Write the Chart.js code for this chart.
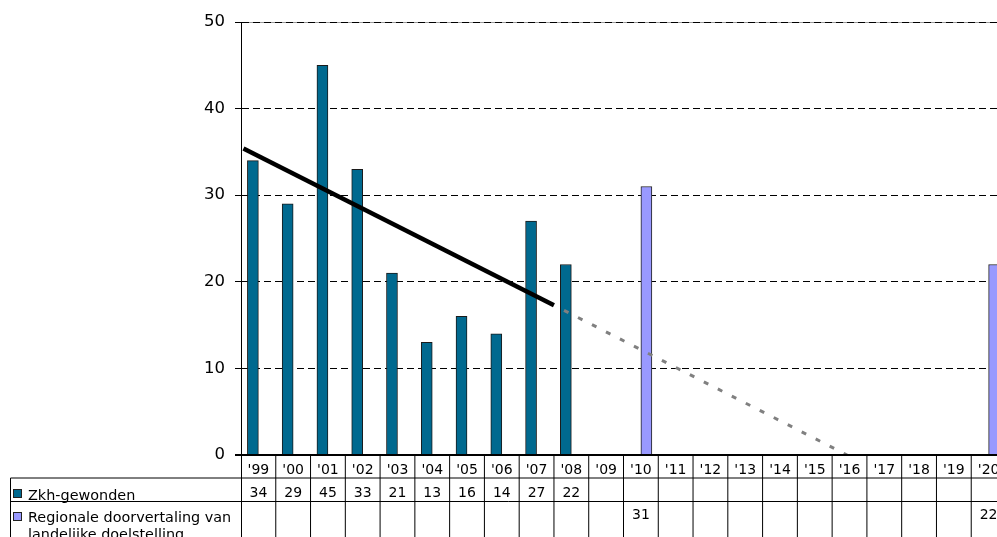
<!DOCTYPE html>
<html>
<head>
<meta charset="utf-8">
<title>Zkh-gewonden</title>
<script src="https://cdn.jsdelivr.net/npm/chart.js@4/dist/chart.umd.min.js"></script>
<style>
  html, body { margin: 0; padding: 0; background: #fff; overflow: hidden; width: 997px; height: 537px; }
  #wrap { position: relative; width: 1012px; height: 537px; }
</style>
</head>
<body>
<div id="wrap"><canvas id="chart" width="1012" height="537"></canvas></div>
<script>
// Years shown on the category axis
const years = ["'99", "'00", "'01", "'02", "'03", "'04", "'05", "'06", "'07", "'08", "'09",
               "'10", "'11", "'12", "'13", "'14", "'15", "'16", "'17", "'18", "'19", "'20"];

// Ziekenhuisgewonden per jaar
const zkhGewonden = [34, 29, 45, 33, 21, 13, 16, 14, 27, 22,
                     null, null, null, null, null, null, null, null, null, null, null, null];

// Regionale doorvertaling van de landelijke doelstelling
const doelstelling = [null, null, null, null, null, null, null, null, null, null, null,
                      31, null, null, null, null, null, null, null, null, null, 22];

// Linear trend (x = year index, 0 = '99) and its forecast continuation
const trendFitted   = [{ x: -0.43, y: 35.4 }, { x: 8.5, y: 17.3 }];
const trendForecast = [{ x: 8.79, y: 16.7 }, { x: 16.93, y: 0 }];

const yTicks = [0, 10, 20, 30, 40, 50];
const seriesNames = ['Zkh-gewonden', 'Regionale doorvertaling van landelijke doelstelling'];
const seriesColors = ['#00698f', '#9999ff'];

const FONT = 'DejaVu Sans, Verdana, sans-serif';

// Data table under the plot: year header, values per series, legend keys
const dataTablePlugin = {
  id: 'dataTable',
  beforeDraw(chart) {
    const { ctx, chartArea } = chart;
    ctx.save();
    ctx.fillStyle = '#fff';
    ctx.fillRect(0, 0, chart.width, chart.height);
    // faint plot-area frame along the top
    ctx.strokeStyle = '#9a9a9a';
    ctx.lineWidth = 1;
    ctx.beginPath();
    ctx.moveTo(chartArea.left, chartArea.top + 0.5);
    ctx.lineTo(chartArea.right, chartArea.top + 0.5);
    ctx.stroke();
    ctx.restore();
  },
  afterDraw(chart) {
    const { ctx, chartArea } = chart;
    const xs = chart.scales.x;
    const left = chartArea.left;
    const right = chartArea.right;
    const base = chartArea.bottom;
    const colW = (right - left) / years.length;
    const bottom = chart.height;
    const row1 = 478, row2 = 501.5, legendX = 10.5;

    ctx.save();
    // category axis line
    ctx.strokeStyle = '#000';
    ctx.lineWidth = 2;
    ctx.beginPath();
    ctx.moveTo(left - 6, base);
    ctx.lineTo(right, base);
    ctx.stroke();

    // cell separators
    ctx.lineWidth = 1;
    ctx.strokeStyle = '#000';
    ctx.beginPath();
    for (let k = 0; k <= years.length; k++) {
      const x = k === 0 ? left + 0.5 : left + k * colW;
      ctx.moveTo(x, base);
      ctx.lineTo(x, bottom);
    }
    ctx.moveTo(legendX, row1);
    ctx.lineTo(legendX, bottom);
    ctx.moveTo(legendX, row1);
    ctx.lineTo(right, row1);
    ctx.moveTo(legendX, row2);
    ctx.lineTo(right, row2);
    ctx.stroke();

    // header row: years
    ctx.fillStyle = '#000';
    ctx.textAlign = 'center';
    ctx.textBaseline = 'alphabetic';
    ctx.font = '14px ' + FONT;
    years.forEach((label, i) => {
      ctx.fillText(label, xs.getPixelForValue(i), 473.5);
    });

    // value rows
    const rows = [zkhGewonden, doelstelling];
    const valueBaselines = [497, 519];
    rows.forEach((vals, r) => {
      vals.forEach((v, i) => {
        if (v === null) return;
        ctx.fillText(String(v), xs.getPixelForValue(i), valueBaselines[r]);
      });
    });

    // legend keys and series names
    ctx.textAlign = 'left';
    ctx.font = '14.4px ' + FONT;
    const keyTops = [489.5, 512.5];
    const nameLines = [['Zkh-gewonden'], ['Regionale doorvertaling van', 'landelijke doelstelling']];
    const nameBaselines = [499.5, 521.5];
    seriesNames.forEach((name, r) => {
      ctx.fillStyle = seriesColors[r];
      ctx.fillRect(13.5, keyTops[r], 8, 8);
      ctx.strokeStyle = '#222';
      ctx.lineWidth = 1;
      ctx.strokeRect(13.5, keyTops[r], 8, 8);
      ctx.fillStyle = '#000';
      nameLines[r].forEach((line, j) => {
        ctx.fillText(line, 28, nameBaselines[r] + j * 17);
      });
    });
    ctx.restore();
  }
};

new Chart(document.getElementById('chart'), {
  type: 'bar',
  data: {
    labels: years,
    datasets: [
      {
        type: 'line',
        label: 'Trend',
        data: trendFitted,
        xAxisID: 'xt',
        borderColor: '#000',
        borderWidth: 4.5,
        pointRadius: 0,
        fill: false,
        order: 0
      },
      {
        type: 'line',
        label: 'Trend (prognose)',
        data: trendForecast,
        xAxisID: 'xt',
        borderColor: '#808080',
        borderWidth: 3,
        borderDash: [5, 10.7],
        pointRadius: 0,
        fill: false,
        order: 0
      },
      {
        label: seriesNames[0],
        data: zkhGewonden,
        backgroundColor: seriesColors[0],
        borderColor: '#1a1a1a',
        borderWidth: 1,
        borderSkipped: 'bottom',
        barThickness: 11,
        order: 1
      },
      {
        label: seriesNames[1],
        data: doelstelling,
        backgroundColor: seriesColors[1],
        borderColor: '#222',
        borderWidth: 1,
        borderSkipped: 'bottom',
        barThickness: 11,
        order: 1
      }
    ]
  },
  options: {
    responsive: false,
    animation: false,
    devicePixelRatio: 1,
    layout: { padding: { top: 22, right: 6, bottom: 82, left: 0 } },
    plugins: {
      legend: { display: false },
      tooltip: { enabled: false }
    },
    scales: {
      x: {
        type: 'category',
        display: false,
        offset: true,
        grid: { display: false }
      },
      xt: {
        type: 'linear',
        display: false,
        offset: false,
        min: -0.5,
        max: years.length - 0.5
      },
      y: {
        min: 0,
        max: 50,
        afterFit(scale) { scale.width = 241; },
        afterBuildTicks(scale) { scale.ticks = yTicks.map(v => ({ value: v })); },
        ticks: {
          padding: 10,
          color: '#000',
          font: { family: FONT, size: 16.5 }
        },
        grid: {
          color: '#000',
          lineWidth: 1,
          drawTicks: true,
          tickLength: 6,
          tickColor: '#000',
          tickBorderDash: []
        },
        border: { display: true, color: '#000', width: 1, dash: [7, 4] }
      }
    }
  },
  plugins: [dataTablePlugin]
});
</script>
</body>
</html>
